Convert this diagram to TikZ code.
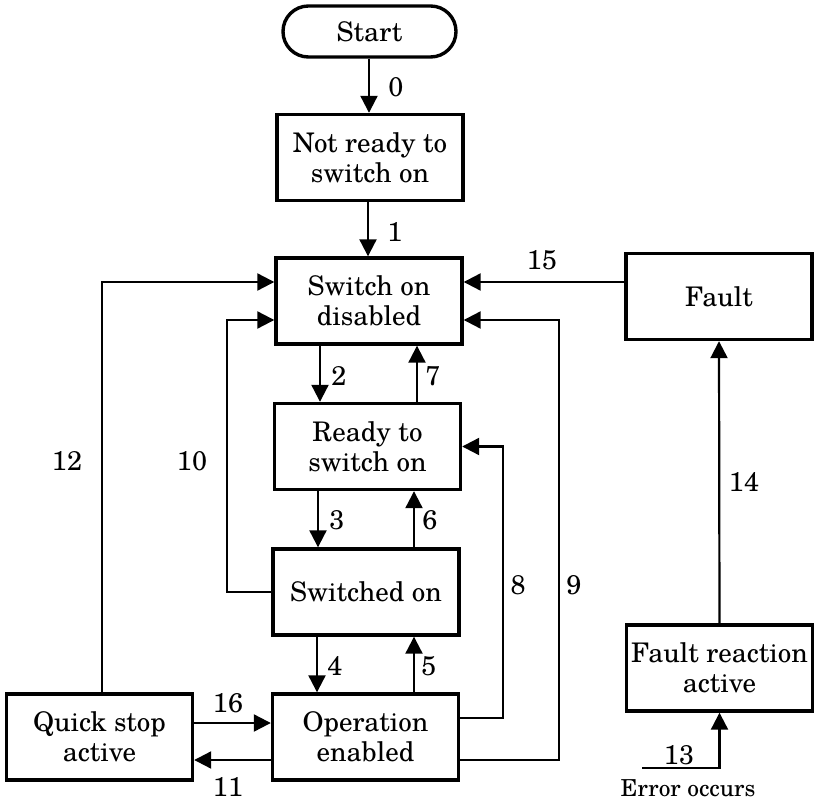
\documentclass[tikz,border=0pt]{standalone}
\usepackage{fontspec}
\setmainfont{texgyreschola}[Extension=.otf, UprightFont=*-regular, BoldFont=*-bold, ItalicFont=*-italic, BoldItalicFont=*-bolditalic]
\usetikzlibrary{arrows.meta}

\begin{document}
\begin{tikzpicture}[x=0.5pt, y=-0.5pt,
  font=\fontsize{13.5}{15}\selectfont,
  statebox/.style={draw, line width=1.7pt, minimum width=93pt, minimum height=43pt,
                   inner sep=0pt, align=center},
  startbox/.style={draw, line width=1.7pt, rounded corners=12.7pt,
                   minimum width=86.5pt, minimum height=25.5pt, inner sep=0pt},
  link/.style={line width=1.1pt},
  arr/.style={link, -{Triangle[length=8.5pt, width=8.5pt]}},
  lbl/.style={inner sep=0pt}]

\useasboundingbox (0,0) rectangle (814,802);

% states
\node[startbox] (start) at (369.5,31.5) {Start};
\node[statebox] (notready)  at (370,157.5)   {Not ready to\\switch on};
\node[statebox] (disabled)  at (369,301)     {Switch on\\disabled};
\node[statebox] (ready)     at (367.5,446.5) {Ready to\\switch on};
\node[statebox] (switched)  at (366,592)     {Switched on};
\node[statebox] (operation) at (365.5,737)   {Operation\\enabled};
\node[statebox] (quick)     at (99.5,737)    {Quick stop\\active};
\node[statebox] (fault)     at (719,296.5)   {Fault};
\node[statebox] (reaction)  at (719.5,668)   {Fault reaction\\active};

% columns of the vertical transitions
\coordinate (x0) at (369,0);
\coordinate (x1) at (368,0);
\coordinate (x2) at (320,0);
\coordinate (x3) at (318,0);
\coordinate (x4) at (317,0);
\coordinate (x7) at (417,0);
\coordinate (x6) at (414,0);
\coordinate (x5) at (414,0);

\draw[arr] (start.south -| x0) -- (notready.north -| x0);
\draw[arr] (notready.south -| x1) -- (disabled.north -| x1);
\draw[arr] (disabled.south -| x2) -- (ready.north -| x2);
\draw[arr] (ready.north -| x7) -- (disabled.south -| x7);
\draw[arr] (ready.south -| x3) -- (switched.north -| x3);
\draw[arr] (switched.north -| x6) -- (ready.south -| x6);
\draw[arr] (switched.south -| x4) -- (operation.north -| x4);
\draw[arr] (operation.north -| x5) -- (switched.south -| x5);

% entry points on "Switch on disabled"
\coordinate (in12) at ([yshift=9.5pt]disabled.west);
\coordinate (in10) at ([yshift=-9.5pt]disabled.west);
\coordinate (in15) at ([yshift=9.5pt]disabled.east);
\coordinate (in9)  at ([yshift=-9.5pt]disabled.east);

% exit points
\coordinate (out9)  at ([yshift=-11.5pt]operation.east);
\coordinate (out8)  at ([yshift=9.5pt]operation.east);
\coordinate (out16) at ([yshift=7pt]quick.east);
\coordinate (out11) at ([yshift=-11.5pt]operation.west);

% bends of the long transitions
\coordinate (k10) at (227,0);
\coordinate (k12) at (102,0);
\coordinate (k8)  at (503,0);
\coordinate (k9)  at (559,0);
\coordinate (err) at (642,768);

\draw[arr] (quick.north -| k12) |- (in12);
\draw[arr] (switched.west) -- (switched.west -| k10) |- (in10);
\draw[arr] (fault.west |- in15) -- (in15);
\draw[arr] (out9) -| (k9 |- in9) -- (in9);
\draw[arr] (out8) -| (k8 |- ready.east) -- (ready.east);
\draw[arr] (out16) -- (out16 -| operation.west);
\draw[arr] (out11) -- (out11 -| quick.east);
\draw[arr] (reaction.north) -- (fault.south);
\draw[arr] (err) -| (reaction.south);

% transition numbers
\node[lbl] (l0)  at (396,87)  {0};
\node[lbl] (l1)  at (395,232) {1};
\node[lbl] (l2)  at (339,376) {2};
\node[lbl] (l7)  at (433,376) {7};
\node[lbl] (l3)  at (337,520) {3};
\node[lbl] (l6)  at (430,520) {6};
\node[lbl] (l4)  at (335,666) {4};
\node[lbl] (l5)  at (429,666) {5};
\node[lbl] (l15) at (542,260) {15};
\node[lbl] (l12) at (67,461)  {12};
\node[lbl] (l10) at (192,461) {10};
\node[lbl] (l14) at (744,482) {14};
\node[lbl] (l8)  at (518,585) {8};
\node[lbl] (l9)  at (574,585) {9};
\node[lbl] (l16) at (228,703) {16};
\node[lbl] (l11) at (228,787) {11};
\node[lbl] (l13) at (679,755) {13};
\node[lbl, font=\fontsize{11.7}{14}\selectfont] (lerr) at (688,788) {Error occurs};

\end{tikzpicture}
\end{document}
